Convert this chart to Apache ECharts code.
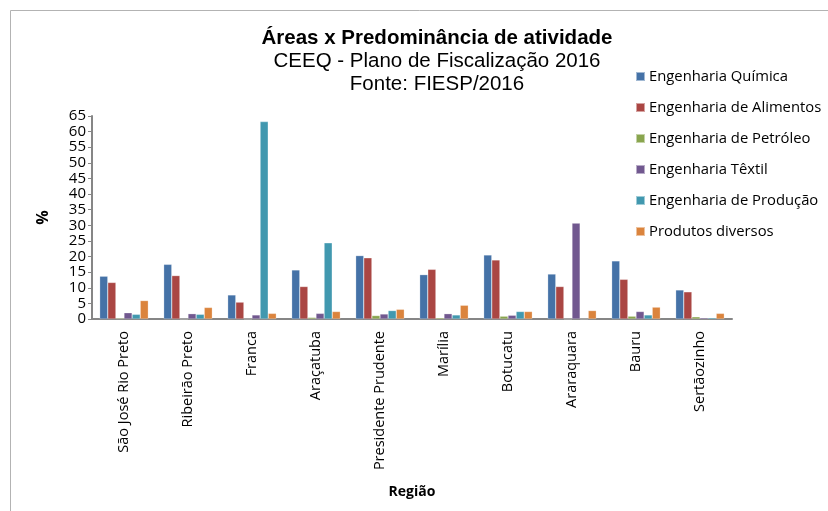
<!DOCTYPE html>
<html>
<head>
<meta charset="utf-8">
<script src="https://cdn.jsdelivr.net/npm/echarts@6/dist/echarts.min.js"></script>
<style>
  html, body { margin: 0; padding: 0; background: #fff; }
  #chart { width: 828px; height: 511px; }
</style>
</head>
<body>
<div id="chart"></div>
<script>
const regioes = ['São José Rio Preto', 'Ribeirão Preto', 'Franca', 'Araçatuba', 'Presidente Prudente',
  'Marília', 'Botucatu', 'Araraquara', 'Bauru', 'Sertãozinho']

const quimica   = [13.7, 17.5, 7.7, 15.7, 20.3, 14.2, 20.5, 14.4, 18.6, 9.3]
const alimentos = [11.7, 13.9, 5.4, 10.4, 19.6, 15.9, 18.9, 10.4, 12.7, 8.7]
const petroleo  = [0.3, 0, 0, 0.5, 1.1, 0.4, 0.9, 0, 0.9, 0.7]
const textil    = [2.0, 1.7, 1.3, 1.8, 1.6, 1.7, 1.2, 30.7, 2.4, 0.4]
const producao  = [1.5, 1.5, 63.2, 24.4, 2.7, 1.3, 2.4, 0, 1.3, 0.4]
const diversos  = [5.9, 3.7, 1.8, 2.4, 3.1, 4.4, 2.4, 2.7, 3.8, 1.8]

const serieNames = ['Engenharia Química', 'Engenharia de Alimentos', 'Engenharia de Petróleo',
  'Engenharia Têxtil', 'Engenharia de Produção', 'Produtos diversos']
const serieData = [quimica, alimentos, petroleo, textil, producao, diversos]
const cores = ['#4572a7', '#aa4643', '#89a54e', '#71588f', '#4198af', '#db843d']

const chart = echarts.init(document.getElementById('chart'))

chart.setOption({
  animation: false,
  color: cores,
  title: {
    text: 'Áreas x Predominância de atividade',
    subtext: 'CEEQ - Plano de Fiscalização 2016\nFonte: FIESP/2016',
    left: 432, top: 23, textAlign: 'center', itemGap: 1,
    textStyle: { fontFamily: 'Liberation Sans', fontSize: 20.5, fontWeight: 'bold', color: '#000' },
    subtextStyle: { fontFamily: 'Liberation Sans', fontSize: 20.5, color: '#000', lineHeight: 23 }
  },
  legend: {
    orient: 'vertical', left: 630, top: 64, itemGap: 16,
    itemWidth: 9, itemHeight: 9, icon: 'rect',
    textStyle: { fontFamily: 'Open Sans', fontSize: 14.8, color: '#000', padding: [0, 0, 0, -1] },
    data: serieNames
  },
  graphic: [{
    type: 'rect', shape: { x: 10.5, y: 10.5, width: 840, height: 540 },
    style: { fill: 'none', stroke: '#b3b3b3', lineWidth: 1 }
  }],
  grid: { left: 92, right: 96, top: 116, bottom: 192 },
  xAxis: {
    type: 'category', data: regioes,
    name: 'Região', nameLocation: 'middle', nameGap: 166,
    nameTextStyle: { fontFamily: 'Open Sans', fontSize: 14, fontWeight: 'bold', color: '#000' },
    axisLine: { lineStyle: { color: '#868686', width: 2 } },
    axisTick: { show: false },
    axisLabel: { rotate: 90, interval: 0, margin: 12, fontFamily: 'Open Sans', fontSize: 14.5, color: '#000' }
  },
  yAxis: {
    type: 'value', min: 0, max: 65, interval: 5,
    name: '%', nameLocation: 'middle', nameGap: 41, nameRotate: 90,
    nameTextStyle: { fontFamily: 'Open Sans', fontSize: 16, fontWeight: 'bold', color: '#000' },
    axisLine: { show: true, lineStyle: { color: '#868686', width: 2 } },
    axisTick: { show: true, length: 4, lineStyle: { color: '#868686' } },
    splitLine: { show: false },
    axisLabel: { margin: 6, fontFamily: 'Open Sans', fontSize: 15, color: '#000' }
  },
  series: serieNames.map((n, i) => ({
    name: n, type: 'bar', data: serieData[i],
    barGap: '0%', barCategoryGap: '24%',
    itemStyle: { borderColor: 'rgba(255,255,255,0.5)', borderWidth: 0.5 }
  }))
})
</script>
</body>
</html>
